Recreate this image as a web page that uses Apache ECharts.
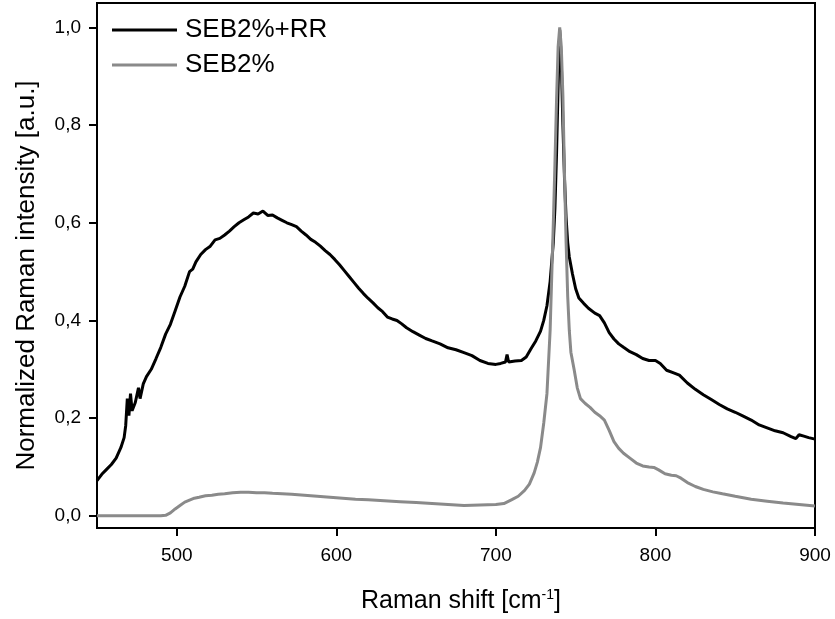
<!DOCTYPE html>
<html>
<head>
<meta charset="utf-8">
<script src="https://cdn.jsdelivr.net/npm/echarts@6/dist/echarts.min.js"></script>
<style>
html,body{margin:0;padding:0;background:#fff;}
#c{width:835px;height:619px;}
</style>
</head>
<body>
<div id="c"></div>
<script>
var seriesNames = ['SEB2%+RR', 'SEB2%'];
var xTicks = [500, 600, 700, 800, 900];
var yTicks = [0, 0.2, 0.4, 0.6, 0.8, 1.0];

var shiftRR = [450,453,456,459,462,465,467,468,469,470,471,472,474,476,477,479,481,484,487,490,493,496,499,502,505,508,510,512,515,518,521,524,527,530,533,536,539,542,545,548,551,554,557,560,563,566,569,572,575,578,581,584,587,590,593,596,599,602,605,608,611,614,617,620,623,626,629,632,635,638,641,644,648,652,656,660,665,670,675,680,685,690,695,700,703,706,707,708,712,716,719,722,725,728,730,732,734,736,737,738,739,740,741,742,743,744,745,746,748,750,752,755,758,762,765,768,771,774,777,780,784,788,792,796,800,803,807,811,815,820,825,830,835,840,845,850,855,860,865,870,875,880,885,888,890,893,896,900];
var intensRR = [0.072,0.085,0.095,0.105,0.118,0.140,0.160,0.185,0.240,0.205,0.250,0.215,0.232,0.262,0.240,0.270,0.285,0.300,0.322,0.345,0.372,0.392,0.420,0.448,0.470,0.500,0.505,0.520,0.535,0.545,0.552,0.565,0.568,0.575,0.583,0.592,0.600,0.606,0.612,0.620,0.618,0.624,0.615,0.616,0.610,0.605,0.600,0.596,0.592,0.583,0.575,0.566,0.560,0.552,0.543,0.535,0.525,0.514,0.502,0.490,0.478,0.466,0.455,0.445,0.436,0.426,0.418,0.407,0.403,0.400,0.393,0.385,0.377,0.370,0.363,0.358,0.352,0.344,0.340,0.334,0.328,0.318,0.312,0.310,0.312,0.315,0.330,0.315,0.317,0.318,0.325,0.342,0.358,0.378,0.400,0.430,0.480,0.560,0.630,0.740,0.880,0.995,0.930,0.800,0.690,0.610,0.560,0.530,0.495,0.465,0.446,0.435,0.425,0.415,0.410,0.395,0.375,0.362,0.352,0.345,0.336,0.330,0.322,0.318,0.318,0.312,0.298,0.293,0.288,0.272,0.259,0.248,0.238,0.228,0.219,0.212,0.204,0.196,0.186,0.180,0.174,0.170,0.162,0.158,0.166,0.163,0.160,0.157];

var shiftSEB = [450,460,470,480,490,493,496,499,502,505,508,511,514,518,522,526,530,535,540,545,550,555,560,566,572,580,588,596,604,612,620,630,640,650,660,670,680,690,700,705,710,714,718,721,724,726,728,730,732,734,736,737,738,739,740,741,742,743,744,745,746,747,749,751,753,756,759,762,765,768,771,774,777,780,784,788,792,796,799,802,806,810,813,816,820,825,830,836,842,850,860,870,880,890,900];
var intensSEB = [0.0,0.0,0.0,0.0,0.0,0.001,0.006,0.014,0.021,0.028,0.032,0.036,0.038,0.041,0.042,0.044,0.045,0.047,0.048,0.048,0.047,0.047,0.046,0.045,0.044,0.042,0.040,0.038,0.036,0.034,0.033,0.031,0.029,0.027,0.025,0.023,0.021,0.022,0.023,0.025,0.033,0.040,0.052,0.065,0.088,0.110,0.140,0.190,0.250,0.380,0.600,0.720,0.850,0.960,1.000,0.960,0.860,0.700,0.560,0.450,0.380,0.335,0.300,0.262,0.240,0.230,0.222,0.212,0.205,0.196,0.175,0.152,0.138,0.128,0.118,0.108,0.102,0.100,0.099,0.094,0.086,0.083,0.082,0.077,0.068,0.060,0.054,0.049,0.045,0.040,0.034,0.030,0.026,0.023,0.020];

function pairs(xs, ys){ return xs.map(function(x,i){ return [x, ys[i]]; }); }

var FONT = '"Liberation Sans", Arial, sans-serif';
var chart = echarts.init(document.getElementById('c'), null, {renderer:'canvas'});
chart.setOption({
  animation: false,
  backgroundColor: '#fff',
  grid: {left: 97, right: 20, top: 3, bottom: 91, show: true, borderColor: '#000', borderWidth: 2, containLabel: false},
  legend: {
    orient: 'vertical', left: 107, top: 12, itemWidth: 65, itemHeight: 3, itemGap: 9,
    icon: 'rect',
    textStyle: {fontSize: 26, color: '#000', fontFamily: FONT, padding: [0,0,0,3]},
    data: [
      {name: seriesNames[0], itemStyle: {color: '#000'}},
      {name: seriesNames[1], itemStyle: {color: '#8a8a8a'}}
    ]
  },
  xAxis: {
    type: 'value', min: 450, max: 900,
    axisLine: {onZero: false, lineStyle: {color: '#000', width: 2}},
    axisTick: {show: true, inside: false, length: 8, lineStyle: {color: '#000', width: 2}, customValues: xTicks},
    axisLabel: {fontSize: 19, color: '#000', fontFamily: FONT, margin: 18, customValues: xTicks},
    splitLine: {show: false},
    name: '{a|Raman shift [cm}{b|-1}{a|]}',
    nameLocation: 'middle', nameGap: 60,
    nameTextStyle: {padding: [0,0,0,10], rich: {a: {fontSize: 25, color: '#000', fontFamily: FONT}, b: {fontSize: 14, color: '#000', fontFamily: FONT, verticalAlign: 'top', padding: [0,0,12,0]}}}
  },
  yAxis: {
    type: 'value', min: -0.025, max: 1.05,
    axisLine: {onZero: false, lineStyle: {color: '#000', width: 2}},
    axisTick: {show: true, inside: false, length: 8, lineStyle: {color: '#000', width: 2}, customValues: yTicks},
    axisLabel: {fontSize: 19, color: '#000', fontFamily: FONT, margin: 16, customValues: yTicks,
      formatter: function(v){ return v.toFixed(1).replace('.', ','); }},
    splitLine: {show: false},
    name: 'Normalized Raman intensity [a.u.]',
    nameLocation: 'middle', nameGap: 57,
    nameTextStyle: {fontSize: 26, color: '#000', fontFamily: FONT, padding: [0,20,0,0]}
  },
  series: [
    {name: seriesNames[1], type: 'line', data: pairs(shiftSEB, intensSEB), symbol: 'none', z: 2,
     lineStyle: {color: '#8a8a8a', width: 3}, itemStyle: {color: '#8a8a8a'}},
    {name: seriesNames[0], type: 'line', data: pairs(shiftRR, intensRR), symbol: 'none', z: 1,
     lineStyle: {color: '#000', width: 3}, itemStyle: {color: '#000'}}
  ]
});
</script>
</body>
</html>
